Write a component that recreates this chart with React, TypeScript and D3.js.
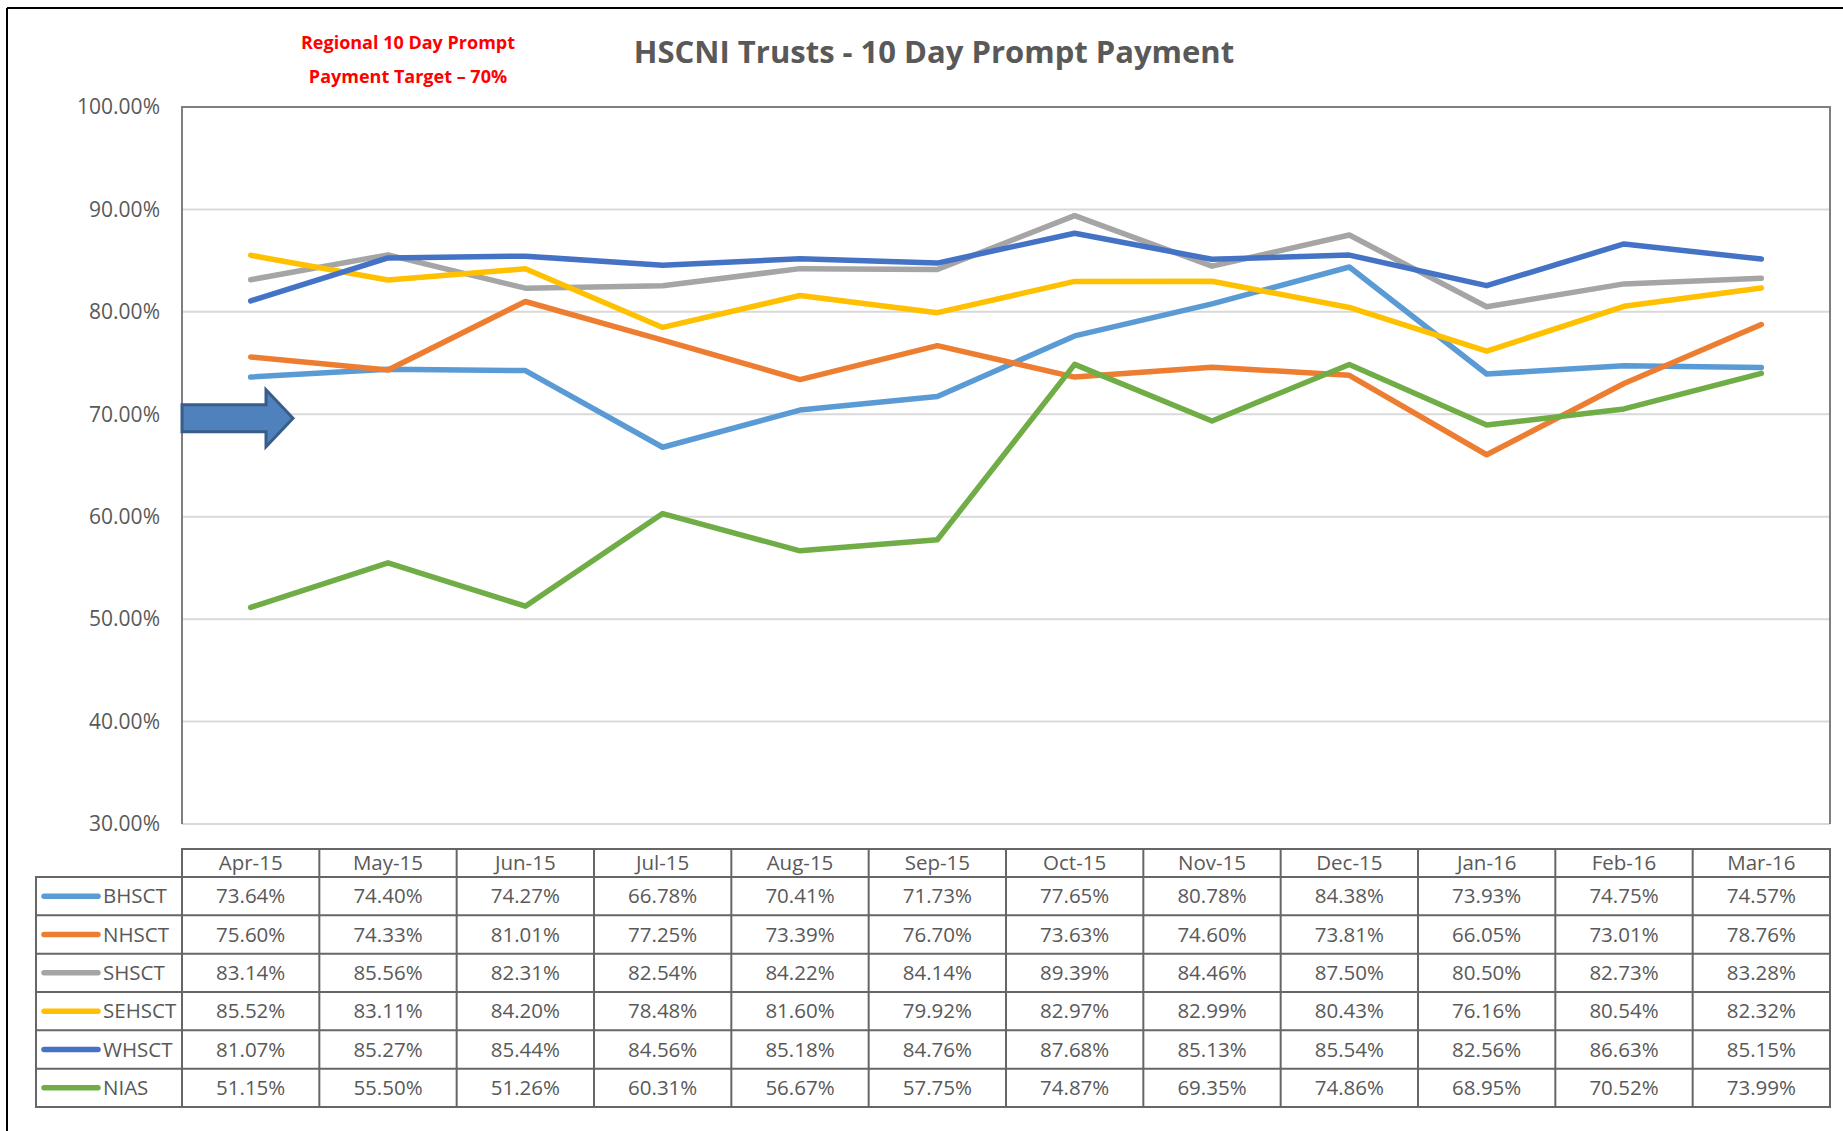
import React from 'react';
import * as d3 from 'd3';

const months = ['Apr-15', 'May-15', 'Jun-15', 'Jul-15', 'Aug-15', 'Sep-15', 'Oct-15', 'Nov-15', 'Dec-15', 'Jan-16', 'Feb-16', 'Mar-16'];

const bhsct = [73.64, 74.4, 74.27, 66.78, 70.41, 71.73, 77.65, 80.78, 84.38, 73.93, 74.75, 74.57];
const nhsct = [75.6, 74.33, 81.01, 77.25, 73.39, 76.7, 73.63, 74.6, 73.81, 66.05, 73.01, 78.76];
const shsct = [83.14, 85.56, 82.31, 82.54, 84.22, 84.14, 89.39, 84.46, 87.5, 80.5, 82.73, 83.28];
const sehsct = [85.52, 83.11, 84.2, 78.48, 81.6, 79.92, 82.97, 82.99, 80.43, 76.16, 80.54, 82.32];
const whsct = [81.07, 85.27, 85.44, 84.56, 85.18, 84.76, 87.68, 85.13, 85.54, 82.56, 86.63, 85.15];
const nias = [51.15, 55.5, 51.26, 60.31, 56.67, 57.75, 74.87, 69.35, 74.86, 68.95, 70.52, 73.99];

const seriesNames = ['BHSCT', 'NHSCT', 'SHSCT', 'SEHSCT', 'WHSCT', 'NIAS'];
const seriesValues = [bhsct, nhsct, shsct, sehsct, whsct, nias];
const seriesColors = ['#5b9bd5', '#ed7d31', '#a5a5a5', '#ffc000', '#4472c4', '#70ad47'];

const yTicks = [30, 40, 50, 60, 70, 80, 90, 100];
const targetValue = 70;

const W = 1843;
const H = 1131;
const FONT = '"Open Sans", "Liberation Sans", sans-serif';
const TEXT = '#595959';

const App: React.FC = () => {
  // layout
  const plot = { left: 182, right: 1830, top: 107, bottom: 824 };
  const table = { left: 36, headTop: 849, headBottom: 877, bottom: 1107 };
  const rowH = (table.bottom - table.headBottom) / seriesNames.length;

  const x = d3.scaleBand<string>().domain(months).range([plot.left, plot.right]);
  const cx = (m: string) => (x(m) || 0) + x.bandwidth() / 2;
  const y = d3.scaleLinear().domain([30, 100]).range([plot.bottom, plot.top]);

  const line = d3
    .line<number>()
    .x((_, i) => cx(months[i]))
    .y((d) => y(d));

  const fmt = (v: number) => v.toFixed(2) + '%';

  // target arrow
  const ac = y(targetValue) + 4;
  const arrow = `M${plot.left},${ac - 13.5} L266,${ac - 13.5} L266,${ac - 28.5} L293,${ac} L266,${ac + 28.5} L266,${ac + 13.5} L${plot.left},${ac + 13.5} Z`;

  return (
    <svg width={W} height={H} style={{ position: 'absolute', left: 0, top: 0, background: '#fff' }} fontFamily={FONT}>
      <rect x={0} y={0} width={W} height={H} fill="#fff" />
      {/* outer frame */}
      <line x1={7} y1={8} x2={W} y2={8} stroke="#000" strokeWidth={2} />
      <line x1={7} y1={8} x2={7} y2={H} stroke="#000" strokeWidth={2} />

      {/* titles */}
      <text x={934} y={63} textAnchor="middle" fontSize={31} fontWeight="bold" fill={TEXT}>
        HSCNI Trusts - 10 Day Prompt Payment
      </text>
      <text x={408} y={49} textAnchor="middle" fontSize={18} fontWeight="bold" fill="#ff0000">
        Regional 10 Day Prompt
      </text>
      <text x={408} y={83} textAnchor="middle" fontSize={18} fontWeight="bold" fill="#ff0000">
        Payment Target – 70%
      </text>

      {/* gridlines */}
      {yTicks.map((t) => (
        <g key={t}>
          <line x1={plot.left} x2={plot.right} y1={y(t)} y2={y(t)} stroke="#d9d9d9" strokeWidth={2} />
          <text x={160} y={y(t)} dy="0.35em" textAnchor="end" fontSize={21} fill={TEXT}>
            {t.toFixed(2)}%
          </text>
        </g>
      ))}
      {/* plot border */}
      <polyline
        points={`${plot.left},${plot.bottom} ${plot.left},${plot.top} ${plot.right},${plot.top} ${plot.right},${plot.bottom}`}
        fill="none"
        stroke="#7f7f7f"
        strokeWidth={2}
      />

      {/* target arrow */}
      <path d={arrow} fill="#4f81bd" stroke="#385d8a" strokeWidth={3} />

      {/* series */}
      {seriesValues.map((vals, i) => (
        <path
          key={seriesNames[i]}
          d={line(vals) || ''}
          fill="none"
          stroke={seriesColors[i]}
          strokeWidth={5.5}
          strokeLinecap="round"
          strokeLinejoin="round"
        />
      ))}

      {/* data table */}
      <g stroke="#666" strokeWidth={2} fill="none">
        <rect x={plot.left} y={table.headTop} width={plot.right - plot.left} height={table.headBottom - table.headTop} />
        <rect x={table.left} y={table.headBottom} width={plot.right - table.left} height={table.bottom - table.headBottom} />
        {months.map((m, i) =>
          i === 0 ? null : (
            <line key={m} x1={x(m)} x2={x(m)} y1={table.headTop} y2={table.bottom} />
          )
        )}
        <line x1={plot.left} x2={plot.left} y1={table.headTop} y2={table.bottom} />
        {seriesNames.map((s, r) =>
          r === 0 ? null : (
            <line key={s} x1={table.left} x2={plot.right} y1={table.headBottom + r * rowH} y2={table.headBottom + r * rowH} />
          )
        )}
      </g>
      {months.map((m) => (
        <text key={m} x={cx(m)} y={(table.headTop + table.headBottom) / 2} dy="0.35em" textAnchor="middle" fontSize={20.5} fill={TEXT}>
          {m}
        </text>
      ))}
      {seriesNames.map((s, r) => {
        const cy = table.headBottom + r * rowH + rowH / 2;
        return (
          <g key={s}>
            <line x1={44} x2={98} y1={cy} y2={cy} stroke={seriesColors[r]} strokeWidth={5.5} strokeLinecap="round" />
            <text x={103} y={cy} dy="0.35em" fontSize={20.5} fill={TEXT}>
              {s}
            </text>
            {seriesValues[r].map((v, i) => (
              <text key={i} x={cx(months[i])} y={cy} dy="0.35em" textAnchor="middle" fontSize={20.5} fill={TEXT}>
                {fmt(v)}
              </text>
            ))}
          </g>
        );
      })}
    </svg>
  );
};

export default App;
